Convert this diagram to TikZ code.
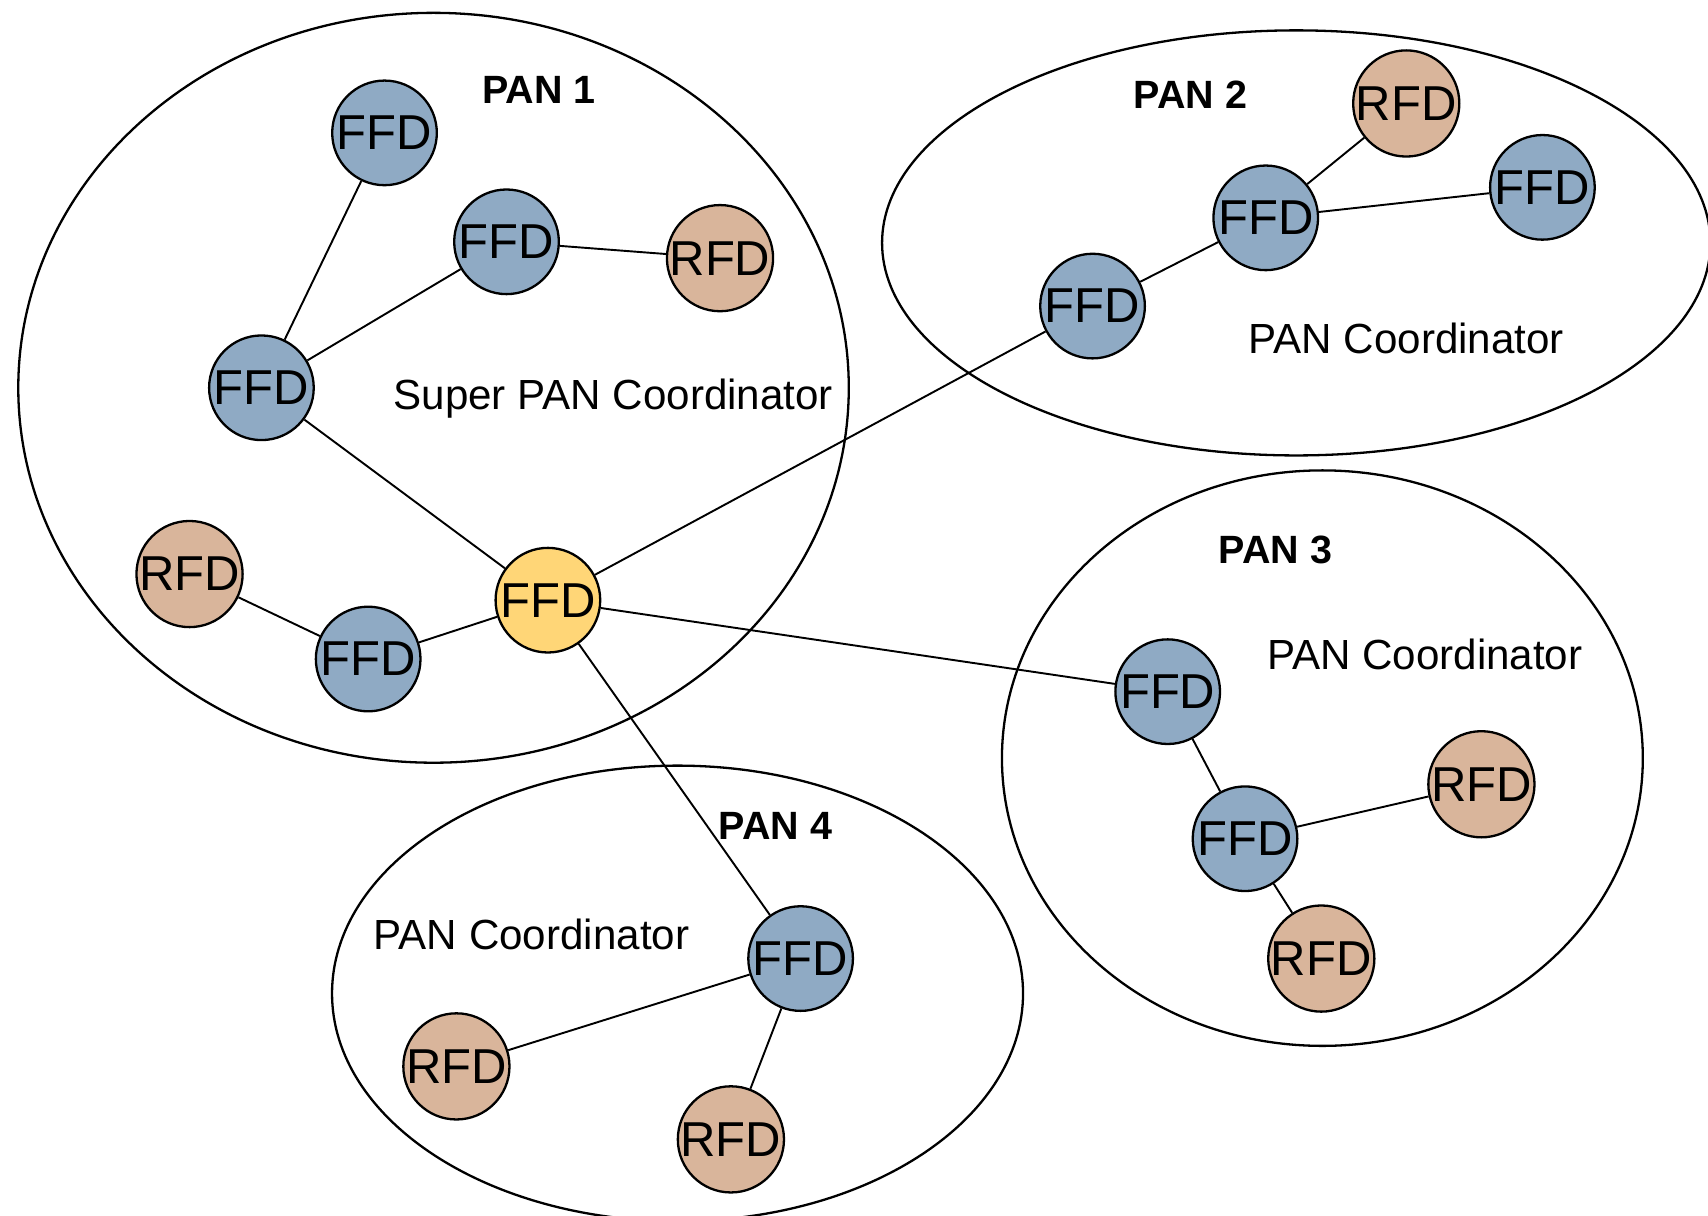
\documentclass[tikz,border=0pt]{standalone}
\usepackage{fontspec}
\setmainfont{Liberation Sans}
\definecolor{ffdblue}{RGB}{143,170,196}
\definecolor{rfdtan}{RGB}{217,181,155}
\definecolor{ffdyellow}{RGB}{255,214,119}
\tikzset{
  dev/.style={circle, draw=black, line width=0.6pt, minimum size=0.96cm, inner sep=0pt,
    font=\fontsize{12.8}{14}\selectfont},
  ffd/.style={dev, fill=ffdblue},
  rfd/.style={dev, fill=rfdtan},
  superffd/.style={dev, fill=ffdyellow},
  link/.style={line width=0.5pt},
  pan/.style={line width=0.6pt},
  panlabel/.style={font=\bfseries\fontsize{10.3}{12}\selectfont},
  coordlabel/.style={font=\fontsize{11}{13}\selectfont}
}
\begin{document}
\begin{tikzpicture}[x=0.01cm,y=-0.01cm]
\path[use as bounding box] (0,0) rectangle (1568,1116);
% PAN ellipses
\draw[pan] (398,356) ellipse [x radius=3.81cm, y radius=3.44cm];
\draw[pan] (1190,223) ellipse [x radius=3.80cm, y radius=1.95cm];
\draw[pan] (1214,696) ellipse [x radius=2.94cm, y radius=2.64cm];
\draw[pan] (622,912) ellipse [x radius=3.17cm, y radius=2.09cm];
% labels
\node[panlabel] (l1) at (495,83) {PAN 1};
\node[panlabel] (l2) at (1093,87) {PAN 2};
\node[panlabel] (l3) at (1171,505) {PAN 3};
\node[panlabel] (l4) at (712,758) {PAN 4};
\node[coordlabel] (c1) at (563,366) {Super PAN Coordinator};
\node[coordlabel] (c2) at (1291,311) {PAN Coordinator};
\node[coordlabel] (c3) at (1308,601) {PAN Coordinator};
\node[coordlabel] (c4) at (488,858) {PAN Coordinator};
% PAN 1 devices
\node[ffd] (a1) at (353,122) {FFD};
\node[ffd] (a2) at (465,222) {FFD};
\node[rfd] (a3) at (661,237) {RFD};
\node[ffd] (a4) at (240,356) {FFD};
\node[rfd] (a5) at (174,527) {RFD};
\node[ffd] (a6) at (338,605) {FFD};
\node[superffd] (s) at (503,551) {FFD};
% PAN 2 devices
\node[ffd] (b1) at (1003,281) {FFD};
\node[ffd] (b2) at (1162,200) {FFD};
\node[rfd] (b3) at (1291,95) {RFD};
\node[ffd] (b4) at (1416,172) {FFD};
% PAN 3 devices
\node[ffd] (d1) at (1072,635) {FFD};
\node[ffd] (d2) at (1143,770) {FFD};
\node[rfd] (d3) at (1360,720) {RFD};
\node[rfd] (d4) at (1213,880) {RFD};
% PAN 4 devices
\node[ffd] (e1) at (735,880) {FFD};
\node[rfd] (e2) at (419,979) {RFD};
\node[rfd] (e3) at (671,1046) {RFD};
% links
\draw[link] (a1) -- (a4);
\draw[link] (a4) -- (a2);
\draw[link] (a2) -- (a3);
\draw[link] (a4) -- (s);
\draw[link] (a5) -- (a6);
\draw[link] (a6) -- (s);
\draw[link] (s) -- (b1);
\draw[link] (s) -- (d1);
\draw[link] (s) -- (e1);
\draw[link] (b1) -- (b2);
\draw[link] (b2) -- (b3);
\draw[link] (b2) -- (b4);
\draw[link] (d1) -- (d2);
\draw[link] (d2) -- (d3);
\draw[link] (d2) -- (d4);
\draw[link] (e1) -- (e2);
\draw[link] (e1) -- (e3);
\end{tikzpicture}
\end{document}
